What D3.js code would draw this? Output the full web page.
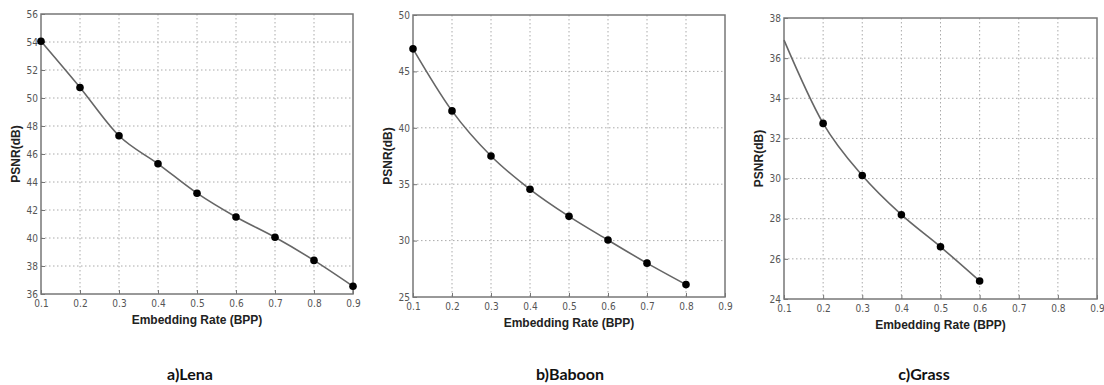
<!DOCTYPE html>
<html>
<head>
<meta charset="utf-8">
<script src="https://cdn.jsdelivr.net/npm/d3@7"></script>
<style>
  body { margin: 0; background: #fff; }
  .tick text { font-family: "DejaVu Sans Condensed", "Liberation Sans", Arial, sans-serif; font-stretch: condensed; font-size: 10px; fill: #555; }
  .albl { font-family: "Liberation Sans", Arial, sans-serif; font-size: 12px; font-weight: bold; fill: #222; }
  .cap { font-family: Lato, "Open Sans", sans-serif; font-size: 16px; font-weight: bold; fill: #111; }
</style>
</head>
<body>
<div id="plot"></div>
<script>
const rates = [0.1, 0.2, 0.3, 0.4, 0.5, 0.6, 0.7, 0.8, 0.9];
const xTicks = [0.1, 0.2, 0.3, 0.4, 0.5, 0.6, 0.7, 0.8, 0.9];

const lena = [54.05, 50.75, 47.3, 45.3, 43.2, 41.5, 40.05, 38.4, 36.55];
const baboon = [47.0, 41.5, 37.5, 34.55, 32.15, 30.05, 28.0, 26.1];
// grass curve starts at 0.1 without a marker
const grass = [36.9, 32.75, 30.15, 28.2, 26.6, 24.9];
const grassMarkerFrom = 1;

const lenaTicks = [36, 38, 40, 42, 44, 46, 48, 50, 52, 54, 56];
const baboonTicks = [25, 30, 35, 40, 45, 50];
const grassTicks = [24, 26, 28, 30, 32, 34, 36, 38];

const captions = ['a)Lena', 'b)Baboon', 'c)Grass'];

const panels = [
  {box: [41, 14, 353, 294], vals: lena, ticks: lenaTicks, mark0: 0, cap: captions[0], capX: 190},
  {box: [413, 15, 725, 297], vals: baboon, ticks: baboonTicks, mark0: 0, cap: captions[1], capX: 570},
  {box: [784, 18, 1097, 299], vals: grass, ticks: grassTicks, mark0: grassMarkerFrom, cap: captions[2], capX: 924}
];

const svg = d3.select('#plot').append('svg')
  .attr('width', 1104).attr('height', 385);

panels.forEach(p => {
  const [x0, y0, x1, y1] = p.box;
  const x = d3.scaleLinear().domain([0.1, 0.9]).range([x0, x1]);
  const y = d3.scaleLinear().domain([p.ticks[0], p.ticks[p.ticks.length - 1]]).range([y1, y0]);
  const g = svg.append('g');
  // Grid
  g.append('g').selectAll('line').data(xTicks.slice(1, -1)).enter().append('line')
    .attr('x1', d => x(d)).attr('x2', d => x(d)).attr('y1', y0).attr('y2', y1)
    .style('stroke', '#aaa').style('stroke-dasharray', '1.5,2.5');
  g.append('g').selectAll('line').data(p.ticks.slice(1, -1)).enter().append('line')
    .attr('y1', d => y(d)).attr('y2', d => y(d)).attr('x1', x0).attr('x2', x1)
    .style('stroke', '#aaa').style('stroke-dasharray', '1.5,2.5');
  // Axes
  g.append('g')
    .attr('transform', `translate(0,${y1})`)
    .call(d3.axisBottom(x).tickValues(xTicks).tickSize(-4).tickPadding(6).tickFormat(d3.format('.1f')))
    .call(a => a.select('.domain').remove())
    .call(a => a.selectAll('.tick line').style('stroke', '#777'));
  g.append('g')
    .attr('transform', `translate(${x0},0)`)
    .call(d3.axisLeft(y).tickValues(p.ticks).tickSize(-4).tickPadding(3))
    .call(a => a.select('.domain').remove())
    .call(a => a.selectAll('.tick line').style('stroke', '#777'));
  g.append('rect')
    .attr('x', x0).attr('y', y0).attr('width', x1 - x0).attr('height', y1 - y0)
    .style('fill', 'none').style('stroke', '#777').style('stroke-width', 1.5);
  // Curve
  const pts = p.vals.map((v, i) => [x(rates[i]), y(v)]);
  g.append('path')
    .attr('d', d3.line().curve(d3.curveMonotoneX)(pts))
    .style('fill', 'none').style('stroke', '#666').style('stroke-width', 1.6);
  g.append('g').selectAll('circle').data(pts.slice(p.mark0)).enter().append('circle')
    .attr('cx', d => d[0]).attr('cy', d => d[1]).attr('r', 3.8)
    .style('fill', '#000');
  // Labels
  g.append('text').attr('class', 'albl')
    .attr('x', (x0 + x1) / 2).attr('y', y1 + 30)
    .attr('text-anchor', 'middle').text('Embedding Rate (BPP)');
  g.append('text').attr('class', 'albl')
    .attr('transform', `translate(${x0 - 21},${(y0 + y1) / 2}) rotate(-90)`)
    .attr('text-anchor', 'middle').text('PSNR(dB)');
  g.append('text').attr('class', 'cap')
    .attr('x', p.capX).attr('y', 380)
    .attr('text-anchor', 'middle').text(p.cap);
});
</script>
</body>
</html>
